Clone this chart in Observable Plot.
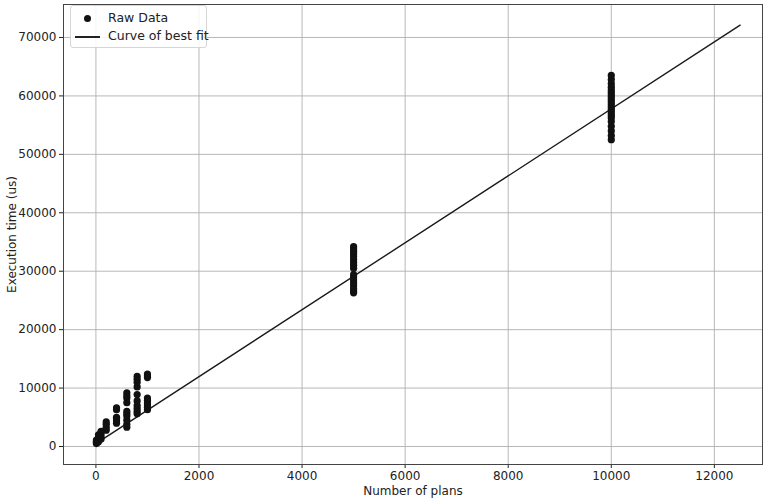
<!DOCTYPE html>
<html>
<head>
<meta charset="utf-8">
<script src="https://cdn.jsdelivr.net/npm/d3@7"></script>
<script src="https://cdn.jsdelivr.net/npm/@observablehq/plot@0.6"></script>
<style>
  body { margin: 0; background: #fff; font-family: "DejaVu Sans", sans-serif; }
  #wrap { position: relative; width: 763px; height: 501px; }
  #legend { position: absolute; left: 70px; top: 5px; width: 137px; height: 43px;
    border: 1px solid #d6d6d6; border-radius: 3px; background: rgba(255,255,255,0.85);
    font-size: 12.5px; color: #222; box-sizing: border-box; }
  .row { position: absolute; left: 0; height: 16px; line-height: 16px; }
  .lbl { position: absolute; left: 37px; white-space: nowrap; }
</style>
</head>
<body>
<div id="wrap">
  <div id="chart"></div>
  <div id="legend">
    <div class="row" style="top:4px;width:130px">
      <div style="position:absolute;left:13px;top:5px;width:7px;height:7px;border-radius:50%;background:#111"></div>
      <div class="lbl">Raw Data</div>
    </div>
    <div class="row" style="top:22px;width:130px">
      <div style="position:absolute;left:4px;top:8px;width:25px;height:1.5px;background:#222"></div>
      <div class="lbl">Curve of best fit</div>
    </div>
  </div>
</div>
<script>
const planCounts = [10, 50, 100, 200, 400, 600, 800, 1000, 5000, 10000];
const executionTimes = [
  [500, 700, 900, 1100],
  [800, 1200, 1600, 2000],
  [1300, 1800, 2300, 2600],
  [2800, 3300, 3800, 4200],
  [4000, 4400, 4800, 5000, 6300, 6600],
  [3300, 3800, 4500, 5200, 5600, 6000, 7500, 8300, 8700, 9200],
  [5600, 6000, 6500, 7000, 7800, 8900, 10200, 11000, 11500, 12000],
  [6300, 6700, 7100, 7500, 7900, 8300, 11800, 12100, 12400],
  [26300, 26600, 27000, 27500, 28000, 28500, 29000, 29400, 30500, 31000, 31500, 32000, 32500, 33000, 33400, 33800, 34200],
  [52500, 53200, 54000, 54800, 55600, 56200, 56600, 57000, 57400, 57800, 58200, 58600, 59000, 59400, 59800, 60200, 60600, 61000, 61500, 62100, 62800, 63500]
];
const fitX = [0, 12500];
const fitY = [500, 72100];
const xTicks = [0, 2000, 4000, 6000, 8000, 10000, 12000];
const yTicks = [0, 10000, 20000, 30000, 40000, 50000, 60000, 70000];

const raw = planCounts.flatMap((p, i) => executionTimes[i].map(t => ({plans: p, time: t})));
const fit = fitX.map((x, i) => ({plans: x, time: fitY[i]}));

const chart = Plot.plot({
  width: 763,
  height: 501,
  marginLeft: 63,
  marginRight: 1,
  marginTop: 4,
  marginBottom: 37,
  style: {fontFamily: "DejaVu Sans, sans-serif", fontSize: "12px", color: "#222", background: "#fff"},
  x: {domain: [-629, 12934]},
  y: {domain: [-3079, 75644]},
  marks: [
    Plot.gridX(xTicks, {stroke: "#b0b0b0", strokeOpacity: 1, strokeWidth: 0.9}),
    Plot.gridY(yTicks, {stroke: "#b0b0b0", strokeOpacity: 1, strokeWidth: 0.9}),
    Plot.axisX({ticks: xTicks, tickFormat: d => String(d), tickSize: 4, tickPadding: 3,
      label: "Number of plans", labelAnchor: "center", labelArrow: "none", labelOffset: 30}),
    Plot.axisY({ticks: yTicks, tickFormat: d => String(d), tickSize: 4, tickPadding: 3,
      label: "Execution time (us)", labelAnchor: "center", labelArrow: "none", labelOffset: 56}),
    Plot.line(fit, {x: "plans", y: "time", stroke: "#1a1a1a", strokeWidth: 1.4}),
    Plot.dot(raw, {x: "plans", y: "time", r: 3.6, fill: "#111", stroke: "none"}),
    Plot.frame({stroke: "#444", strokeWidth: 1})
  ]
});
document.getElementById("chart").appendChild(chart);
</script>
</body>
</html>
